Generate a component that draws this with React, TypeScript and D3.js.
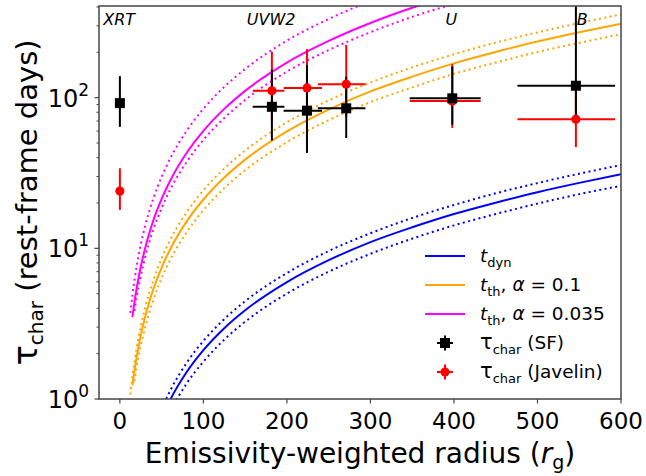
import React from 'react';
import * as d3 from 'd3';

// radius grid (r_g) that the model curves were read on
const radiusGrid = [12.5, 15, 17.5, 20, 25, 30, 35, 40, 50, 60, 80, 100, 125, 150, 200, 250, 300, 350, 400, 450, 500, 550, 600];

const tDyn = [null, null, null, null, null, null, null, null, 0.746, 0.981, 1.51, 2.11, 2.95, 3.88, 5.97, 8.34, 11.0, 13.8, 16.9, 20.1, 23.6, 27.2, 31.0];
const tDynHi = [null, null, null, null, null, null, null, null, 0.86, 1.13, 1.74, 2.43, 3.39, 4.46, 6.86, 9.6, 12.6, 15.9, 19.4, 23.2, 27.1, 31.3, 35.7];
const tDynLo = [null, null, null, null, null, null, null, null, 0.63, 0.82, 1.27, 1.77, 2.48, 3.26, 5.01, 7.0, 9.2, 11.6, 14.2, 16.9, 19.8, 22.9, 26.0];

const tTh01 = [null, 1.23, 1.54, 1.89, 2.64, 3.47, 4.37, 5.34, 7.46, 9.81, 15.1, 21.1, 29.5, 38.8, 59.7, 83.4, 110, 138, 169, 201, 236, 272, 310];
const tTh01Hi = [1.07, 1.41, 1.78, 2.17, 3.03, 3.99, 5.03, 6.14, 8.58, 11.3, 17.4, 24.3, 33.9, 44.6, 68.6, 95.9, 126, 159, 194, 232, 271, 313, 357];
const tTh01Lo = [null, null, 1.31, 1.61, 2.24, 2.95, 3.71, 4.54, 6.34, 8.34, 12.8, 17.9, 25.1, 33.0, 50.7, 70.9, 93.5, 117, 144, 171, 201, 231, 264];

const tTh0035 = [null, 3.50, 4.41, 5.39, 7.54, 9.91, 12.5, 15.3, 21.3, 28.0, 43.1, 60.3, 84.3, 111, 171, 238, 313, 395, 482, null, null, null, null];
const tTh0035Hi = [3.73, 4.90, 6.17, 7.55, 10.6, 13.9, 17.5, 21.4, 29.8, 39.2, 60.3, 84.4, 118, 155, 239, 333, 438, null, null, null, null, null, null];
const tTh0035Lo = [null, null, 3.84, 4.69, 6.56, 8.62, 10.9, 13.3, 18.5, 24.4, 37.5, 52.5, 73.3, 96.6, 149, 207, 272, 344, 419, null, null, null, null];

// measured lags per band
const bandRadius = [0, 182, 224, 271, 398, 546];
const radiusErrLo = [0, 23, 28, 34, 51, 70];
const radiusErrHi = [0, 15, 18, 23, 34, 47];

const sfTau = [92, 87, 82, 85, 99, 120];
const sfTauLo = [64, 52, 43, 54, 66, 70];
const sfTauHi = [139, 153, 165, 138, 161, 700];

const javTau = [24, 111, 116, 123, 95, 72];
const javTauLo = [18, 70, 70, 75, 63, 47];
const javTauHi = [34, 202, 210, 224, 167, 115];

const bandNames = ['XRT', 'UVW2', 'U', 'B'];
const bandNameX = [-20, 152, 390, 547];

const xTicks = [0, 100, 200, 300, 400, 500, 600];
const yMajorTicks = [1, 10, 100];
const yExponents = ['0', '1', '2'];

const W = 646;
const H = 476;
const left = 99, right = 621, top = 6, bottom = 399;
const FONT = 'DejaVu Sans, sans-serif';

const App = () => {
    const x = d3.scaleLinear().domain([-25, 600]).range([left, right]);
    const y = d3.scaleLog().domain([1, 406]).range([bottom, top]);

    const yMinor: number[] = [];
    [1, 10, 100].forEach(dec => {
        for (let k = 2; k <= 9; k++) {
            const v = dec * k;
            if (v < 406) yMinor.push(v);
        }
    });

    const makePath = (vals: (number | null)[]) => {
        const pts = radiusGrid.map((r, i) => [r, vals[i]] as [number, number | null]);
        return d3.line<[number, number | null]>()
            .defined(d => d[1] != null)
            .x(d => x(d[0]))
            .y(d => y(d[1] as number))
            .curve(d3.curveMonotoneX)(pts) || '';
    };

    const curves = [
        { vals: tDyn, color: '#0000ff', dotted: false },
        { vals: tDynHi, color: '#0000ff', dotted: true },
        { vals: tDynLo, color: '#0000ff', dotted: true },
        { vals: tTh01, color: '#ffa500', dotted: false },
        { vals: tTh01Hi, color: '#ffa500', dotted: true },
        { vals: tTh01Lo, color: '#ffa500', dotted: true },
        { vals: tTh0035, color: '#ff00ff', dotted: false },
        { vals: tTh0035Hi, color: '#ff00ff', dotted: true },
        { vals: tTh0035Lo, color: '#ff00ff', dotted: true },
    ];

    const errBars = (tau: number[], lo: number[], hi: number[], color: string) =>
        bandRadius.map((r, i) => (
            <g key={color + i} stroke={color} strokeWidth={2}>
                <line x1={x(r)} x2={x(r)} y1={y(lo[i])} y2={y(hi[i])} />
                {radiusErrLo[i] + radiusErrHi[i] > 0 &&
                    <line x1={x(r - radiusErrLo[i])} x2={x(r + radiusErrHi[i])} y1={y(tau[i])} y2={y(tau[i])} />}
            </g>
        ));

    const legendRows = [256, 285, 314, 343, 372];
    const sub = (s: string, size = 13) => <tspan fontSize={size} dy={5}>{s}</tspan>;
    const unsub = (s: string) => <tspan dy={-5}>{s}</tspan>;

    return (
        <svg width={W} height={H} style={{ position: 'absolute', left: 0, top: 0, background: '#fff' }} fontFamily={FONT}>
            <defs>
                <clipPath id="plotArea">
                    <rect x={left} y={top} width={right - left} height={bottom - top} />
                </clipPath>
            </defs>

            <g clipPath="url(#plotArea)" fill="none">
                {curves.map((c, i) => (
                    <path key={i} d={makePath(c.vals)} stroke={c.color} strokeWidth={2}
                        strokeDasharray={c.dotted ? '2 3.4' : undefined} />
                ))}
                {errBars(javTau, javTauLo, javTauHi, '#ff0000')}
                {errBars(sfTau, sfTauLo, sfTauHi, '#000000')}
                {bandRadius.map((r, i) => (
                    <circle key={'jc' + i} cx={x(r)} cy={y(javTau[i])} r={4.6} fill="#ff0000" />
                ))}
                {bandRadius.map((r, i) => (
                    <rect key={'sq' + i} x={x(r) - 5} y={y(sfTau[i]) - 5} width={10} height={10} fill="#000" />
                ))}
            </g>

            {/* band names */}
            {bandNames.map((b, i) => (
                <text key={b} x={x(bandNameX[i])} y={25} fontSize={16} fontStyle="italic" fill="#000">{b}</text>
            ))}

            {/* frame */}
            <rect x={left} y={top} width={right - left} height={bottom - top} fill="none" stroke="#444" strokeWidth={1.5} />

            {/* x axis */}
            {xTicks.map(t => (
                <g key={'xt' + t}>
                    <line x1={x(t)} x2={x(t)} y1={bottom} y2={bottom + 4.5} stroke="#444" strokeWidth={1.2} />
                    <text x={x(t)} y={429} textAnchor="middle" fontSize={23} fill="#000">{t}</text>
                </g>
            ))}

            {/* y axis */}
            {yMinor.map(t => (
                <line key={'ym' + t} x1={left - 2.5} x2={left} y1={y(t)} y2={y(t)} stroke="#444" strokeWidth={1} />
            ))}
            {yMajorTicks.map((t, i) => (
                <g key={'yt' + t}>
                    <line x1={left - 4.5} x2={left} y1={y(t)} y2={y(t)} stroke="#444" strokeWidth={1.2} />
                    <text x={89} y={y(t) + 9} textAnchor="end" fontSize={24} fill="#000">
                        10<tspan fontSize={17} dy={-11}>{yExponents[i]}</tspan>
                    </text>
                </g>
            ))}

            {/* axis labels */}
            <text x={(left + right) / 2} y={463} textAnchor="middle" fontSize={28} fill="#000">
                Emissivity-weighted radius (<tspan fontStyle="italic">r</tspan><tspan fontSize={19} dy={6}>g</tspan><tspan dy={-6}>)</tspan>
            </text>
            <text transform={`translate(37,${(top + bottom) / 2}) rotate(-90)`} textAnchor="middle" fontSize={29} fill="#000">
                <tspan fontSize={34}>τ</tspan><tspan fontSize={20} dy={6}>char</tspan><tspan dy={-6}> (rest-frame days)</tspan>
            </text>

            {/* legend */}
            <g>
                {[['#0000ff'], ['#ffa500'], ['#ff00ff']].map((c, i) => (
                    <line key={'ll' + i} x1={425} x2={465} y1={legendRows[i]} y2={legendRows[i]} stroke={c[0]} strokeWidth={2} />
                ))}
                <text x={480} y={legendRows[0] + 6} fontSize={18.5} fill="#000">
                    <tspan fontStyle="italic">t</tspan>{sub('dyn')}
                </text>
                <text x={480} y={legendRows[1] + 6} fontSize={18.5} fill="#000">
                    <tspan fontStyle="italic">t</tspan>{sub('th')}{unsub(', ')}<tspan fontStyle="italic">α</tspan> = 0.1
                </text>
                <text x={480} y={legendRows[2] + 6} fontSize={18.5} fill="#000">
                    <tspan fontStyle="italic">t</tspan>{sub('th')}{unsub(', ')}<tspan fontStyle="italic">α</tspan> = 0.035
                </text>

                {[['#000', 3], ['#ff0000', 4]].map(([col, row]) => {
                    const cy = legendRows[row as number];
                    return (
                        <g key={'lm' + row} stroke={col as string} strokeWidth={2}>
                            <line x1={437} x2={453} y1={cy} y2={cy} />
                            <line x1={445} x2={445} y1={cy - 7.5} y2={cy + 7.5} />
                            {row === 3
                                ? <rect x={440} y={cy - 5} width={10} height={10} fill="#000" stroke="none" />
                                : <circle cx={445} cy={cy} r={4.6} fill="#ff0000" stroke="none" />}
                        </g>
                    );
                })}
                <text x={480} y={legendRows[3] + 6} fontSize={18.5} fill="#000">
                    <tspan fontSize={21}>τ</tspan>{sub('char')}{unsub(' (SF)')}
                </text>
                <text x={480} y={legendRows[4] + 6} fontSize={18.5} fill="#000">
                    <tspan fontSize={21}>τ</tspan>{sub('char')}{unsub(' (Javelin)')}
                </text>
            </g>
        </svg>
    );
};

export default App;
